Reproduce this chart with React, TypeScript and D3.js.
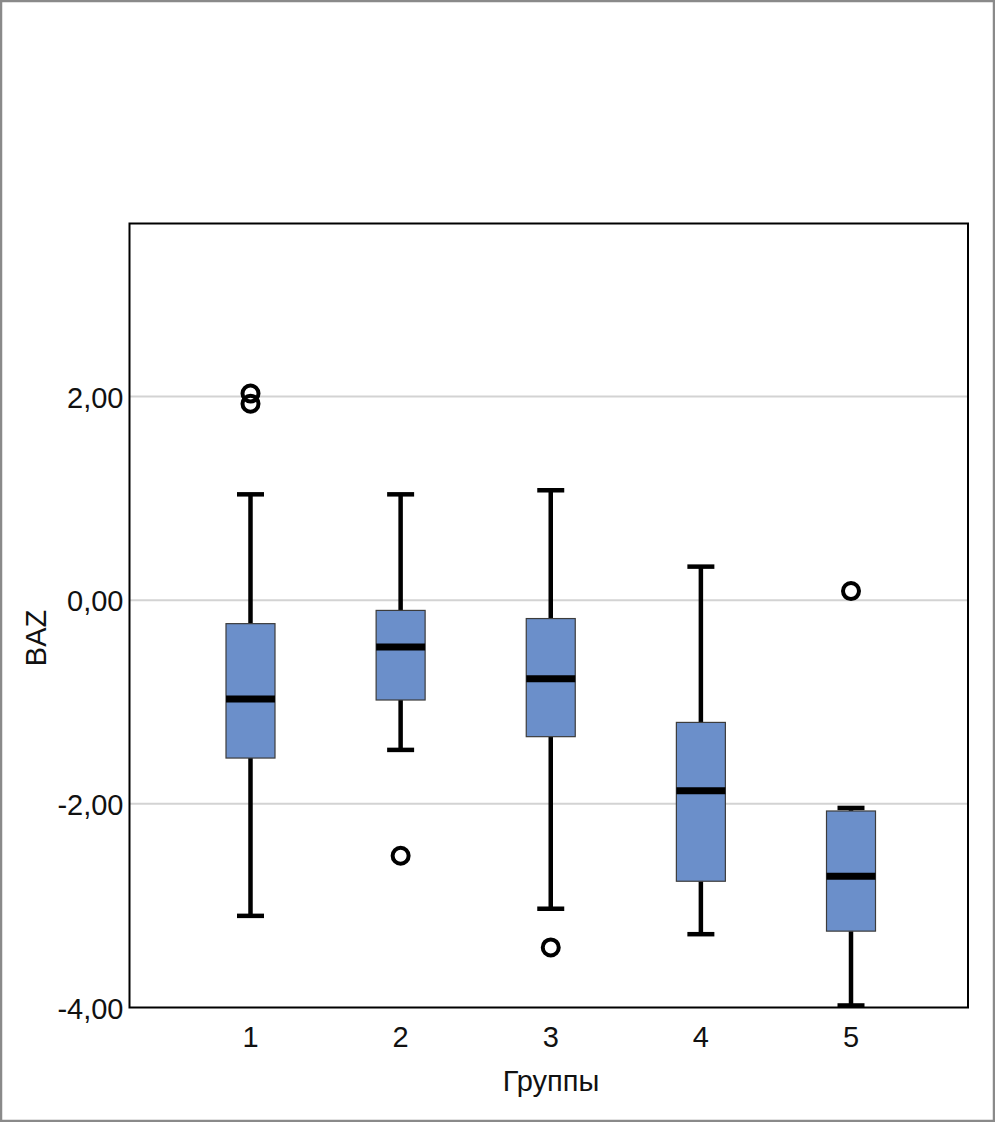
import React from 'react';
import * as d3 from 'd3';

// box plot values
const GROUPS = ['1', '2', '3', '4', '5'];
const WHISKER_LOW = [-3.10, -1.47, -3.03, -3.28, -3.98];
const Q1 = [-1.55, -0.98, -1.34, -2.76, -3.25];
const MEDIAN = [-0.97, -0.46, -0.77, -1.87, -2.71];
const Q3 = [-0.23, -0.10, -0.18, -1.20, -2.07];
const WHISKER_HIGH = [1.04, 1.04, 1.08, 0.33, -2.04];
const OUTLIERS: number[][] = [[2.03, 1.93], [-2.51], [-3.41], [], [0.09]];

const Y_TICKS = [2, 0, -2, -4];

const W = 995;
const H = 1122;
const FONT = '"Liberation Sans", Arial, sans-serif';
const FS = 29;

const App: React.FC = () => {
    const plot = { left: 129.5, right: 968, top: 223.5, bottom: 1007.5 };

    // group centres sit a little off-symmetric inside the frame
    const x = d3.scalePoint<string>()
        .domain(GROUPS)
        .range([plot.left + 121, plot.right - 117])
        .padding(0);

    const y = d3.scaleLinear()
        .domain([-4, 3.7])
        .range([plot.bottom, plot.top]);

    const fmt = (v: number) => d3.format('.2f')(v).replace('.', ',').replace('−', '-');

    const boxW = 49;
    const capW = 27;

    return (
        <div style={{ position: 'absolute', left: 0, top: 0 }}>
            <svg width={W} height={H} style={{ display: 'block' }}>
                <rect x={0} y={0} width={W} height={H} fill="#fff" />
                <rect x={1} y={1} width={W - 2} height={H - 2} fill="none" stroke="#8a8a8a" strokeWidth={2.5} />

                {/* gridlines */}
                {Y_TICKS.filter(t => t > -4).map(t => (
                    <line key={t} x1={plot.left} x2={plot.right} y1={y(t)} y2={y(t)} stroke="#d3d3d3" strokeWidth={2} />
                ))}

                {/* y tick labels */}
                {Y_TICKS.map(t => (
                    <text key={t} x={plot.left - 6} y={y(t) + 1} textAnchor="end" dominantBaseline="central"
                        fontFamily={FONT} fontSize={FS} fill="#111">
                        {fmt(t)}
                    </text>
                ))}

                {/* x tick labels */}
                {GROUPS.map(g => (
                    <text key={g} x={x(g)} y={1047} textAnchor="middle" fontFamily={FONT} fontSize={FS} fill="#111">
                        {g}
                    </text>
                ))}

                <text x={551} y={1091} textAnchor="middle" fontFamily={FONT} fontSize={FS} fill="#111">Группы</text>
                <text transform={`translate(46, 638) rotate(-90)`} textAnchor="middle" fontFamily={FONT} fontSize={FS} fill="#111">BAZ</text>

                {GROUPS.map((g, i) => {
                    const cx = x(g) || 0;
                    return (
                        <g key={g}>
                            <line x1={cx} x2={cx} y1={y(WHISKER_HIGH[i])} y2={y(Q3[i])} stroke="#000" strokeWidth={4.5} />
                            <line x1={cx} x2={cx} y1={y(Q1[i])} y2={y(WHISKER_LOW[i])} stroke="#000" strokeWidth={4.5} />
                            <line x1={cx - capW / 2} x2={cx + capW / 2} y1={y(WHISKER_HIGH[i])} y2={y(WHISKER_HIGH[i])} stroke="#000" strokeWidth={4.5} />
                            <line x1={cx - capW / 2} x2={cx + capW / 2} y1={y(WHISKER_LOW[i])} y2={y(WHISKER_LOW[i])} stroke="#000" strokeWidth={4.5} />
                            <rect x={cx - boxW / 2} y={y(Q3[i])} width={boxW} height={y(Q1[i]) - y(Q3[i])}
                                fill="#6b8fca" stroke="#3c3c3c" strokeWidth={1.2} />
                            <line x1={cx - boxW / 2} x2={cx + boxW / 2} y1={y(MEDIAN[i])} y2={y(MEDIAN[i])} stroke="#000" strokeWidth={7} />
                            {OUTLIERS[i].map((o, j) => (
                                <circle key={j} cx={cx} cy={y(o)} r={8} fill="none" stroke="#000" strokeWidth={4} />
                            ))}
                        </g>
                    );
                })}

                {/* plot frame */}
                <rect x={plot.left} y={plot.top} width={plot.right - plot.left} height={plot.bottom - plot.top}
                    fill="none" stroke="#000" strokeWidth={2} />
            </svg>
        </div>
    );
};

export default App;
